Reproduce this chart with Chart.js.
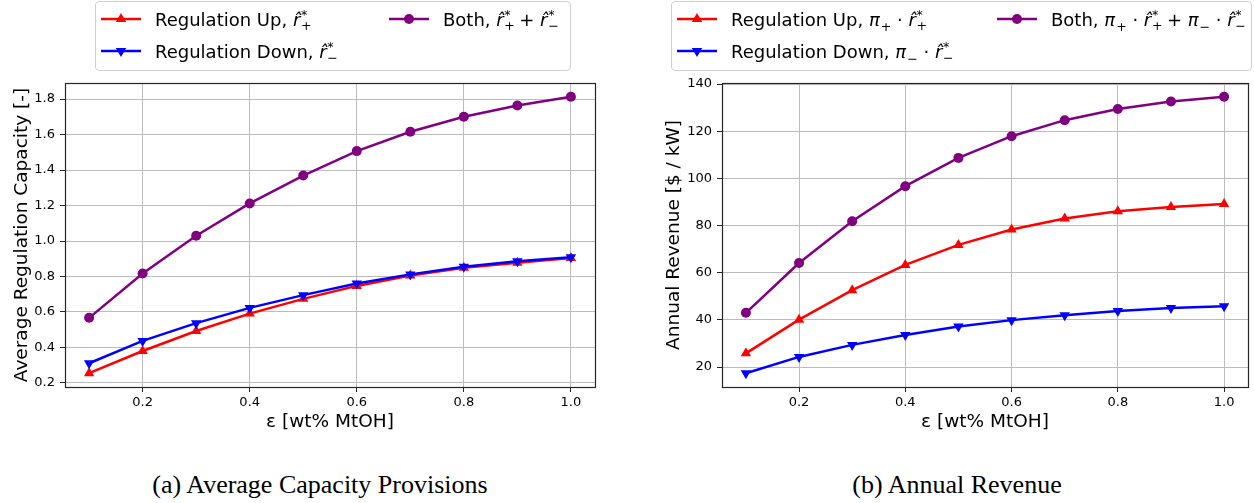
<!DOCTYPE html>
<html>
<head>
<meta charset="utf-8">
<script src="https://cdn.jsdelivr.net/npm/chart.js@4.4.1/dist/chart.umd.min.js"></script>
<style>
  html, body { margin: 0; padding: 0; background: #fff; }
  #page { position: relative; width: 1254px; height: 503px; overflow: hidden; }
  canvas { position: absolute; top: 0; }
  #capChart { left: 0; }
  #revChart { left: 640px; }
  .legend {
    position: absolute; top: 1px; height: 68px;
    border: 1px solid #d0d0d0; border-radius: 4px; background: rgba(255,255,255,0.85);
    font-family: "DejaVu Sans", sans-serif; font-size: 18px; color: #000;
  }
  .item { position: absolute; height: 30px; display: flex; align-items: center; white-space: nowrap; }
  .item svg { flex: none; margin-right: 14px; }
  .m { font-style: italic; }
  /* stacked super/subscript that does not grow the line box */
  .ss { display: inline-block; position: relative; width: 0.55em; height: 1em; }
  .ss .up, .ss .dn { position: absolute; left: 0.05em; font-size: 0.7em; line-height: 1; }
  .ss .up { top: 0.04em; }
  .ss .dn { top: 0.95em; }
  .sub { font-size: 0.7em; position: relative; top: 0.4em; margin-left: 1px; }
  .caption {
    position: absolute; top: 470px; transform: translateX(-50%); white-space: nowrap;
    font-family: "Liberation Serif", "DejaVu Serif", serif; font-size: 26px; color: #000;
  }
</style>
</head>
<body>
<div id="page">
  <canvas id="capChart" width="627" height="440"></canvas>
  <canvas id="revChart" width="614" height="440"></canvas>
  <div class="legend" id="capLegend" style="left:95px; width:474px;"></div>
  <div class="legend" id="revLegend" style="left:671px; width:579px;"></div>
  <div class="caption" style="left:320px;">(a) Average Capacity Provisions</div>
  <div class="caption" style="left:957px;">(b) Annual Revenue</div>
</div>
<script>
// methanol concentration sweep
const epsilon = [0.1, 0.2, 0.3, 0.4, 0.5, 0.6, 0.7, 0.8, 0.9, 1.0]

// average regulation capacity [-]
const capUp = [0.255, 0.380, 0.493, 0.591, 0.674, 0.747, 0.805, 0.849, 0.877, 0.905]
const capDown = [0.311, 0.437, 0.537, 0.623, 0.695, 0.761, 0.812, 0.855, 0.886, 0.908]
const capBoth = [0.567, 0.817, 1.030, 1.212, 1.369, 1.507, 1.616, 1.701, 1.764, 1.813]

// annual revenue [$ / kW]
const revUp = [25.8, 40.1, 52.6, 63.3, 71.8, 78.3, 83.0, 86.1, 87.9, 89.1]
const revDown = [17.4, 24.3, 29.4, 33.6, 37.2, 39.9, 42.0, 43.8, 45.0, 45.8]
const revBoth = [43.0, 64.1, 81.8, 96.7, 108.7, 117.9, 124.7, 129.4, 132.6, 134.6]

const xTicks = [0.2, 0.4, 0.6, 0.8, 1.0]
const capTicks = [0.2, 0.4, 0.6, 0.8, 1.0, 1.2, 1.4, 1.6, 1.8]
const revTicks = [20, 40, 60, 80, 100, 120, 140]

// legend labels (mathtext-ish markup)
const R_UP = '<span class="m">r&#770;</span><span class="ss"><span class="up">*</span><span class="dn">+</span></span>'
const R_DN = '<span class="m">r&#770;</span><span class="ss"><span class="up">*</span><span class="dn">&minus;</span></span>'
const PI_UP = '<span class="m">&pi;</span><span class="sub">+</span>'
const PI_DN = '<span class="m">&pi;</span><span class="sub">&minus;</span>'
const capLabels = ['Regulation Up, ' + R_UP, 'Regulation Down, ' + R_DN, 'Both, ' + R_UP + ' + ' + R_DN]
const revLabels = [
    'Regulation Up, ' + PI_UP + ' &middot; ' + R_UP,
    'Regulation Down, ' + PI_DN + ' &middot; ' + R_DN,
    'Both, ' + PI_UP + ' &middot; ' + R_UP + ' + ' + PI_DN + ' &middot; ' + R_DN
]

const RED = '#ff0000'
const BLUE = '#0000ff'
const PURPLE = '#800080'
const GRID = '#bcbcbc'
const SPINE = '#262626'
const FONT = 'DejaVu Sans'
const LINE_W = 2.5

// matplotlib-like 5% margins around the data
function padRange(values, frac) {
    const lo = Math.min(...values), hi = Math.max(...values)
    const m = (hi - lo) * frac
    return [lo - m, hi + m]
}

function series(label, ys, color, style, radius, rotation, order) {
    return {
        label: label,
        data: epsilon.map((x, i) => ({ x: x, y: ys[i] })),
        borderColor: color,
        backgroundColor: color,
        borderWidth: LINE_W,
        pointStyle: style,
        pointRadius: radius,
        pointHoverRadius: radius,
        pointRotation: rotation,
        pointBorderWidth: 0,
        tension: 0,
        order: order
    }
}

// full box around the plot area, like matplotlib spines
const frame = {
    id: 'frame',
    afterDraw(chart) {
        const { ctx, chartArea: a } = chart
        ctx.save()
        ctx.strokeStyle = SPINE
        ctx.lineWidth = 1.2
        ctx.strokeRect(Math.round(a.left) + 0.5, Math.round(a.top) + 0.5,
            Math.round(a.right - a.left), Math.round(a.bottom - a.top))
        ctx.restore()
    }
}

function makeChart(id, sets, yTicks, yTitle, yFmt, geo) {
    const [xmin, xmax] = padRange(epsilon, 0.05)
    const all = sets.flatMap(s => s.data.map(p => p.y))
    const [ymin, ymax] = padRange(all, 0.05)
    return new Chart(document.getElementById(id).getContext('2d'), {
        type: 'line',
        data: { datasets: sets },
        options: {
            responsive: false,
            animation: false,
            devicePixelRatio: 1,
            layout: { padding: { top: 83, right: geo.right, left: 0, bottom: 0 } },
            plugins: { legend: { display: false }, tooltip: { enabled: false } },
            scales: {
                x: {
                    type: 'linear',
                    min: xmin,
                    max: xmax,
                    afterBuildTicks: s => { s.ticks = xTicks.map(v => ({ value: v })) },
                    afterFit: s => { s.height = 53 },
                    border: { display: false },
                    grid: { color: GRID, lineWidth: 1, tickColor: SPINE, tickLength: 5, tickWidth: 1 },
                    ticks: {
                        autoSkip: false, maxRotation: 0, padding: 3, color: '#000',
                        font: { family: FONT, size: 13 },
                        callback: v => v.toFixed(1)
                    },
                    title: {
                        display: true, text: 'ε [wt% MtOH]', color: '#000',
                        font: { family: FONT, size: 18.5, lineHeight: 1 },
                        padding: { top: 0, bottom: 9 }
                    }
                },
                y: {
                    type: 'linear',
                    min: ymin,
                    max: ymax,
                    afterBuildTicks: s => { s.ticks = yTicks.map(v => ({ value: v })) },
                    afterFit: s => { s.width = geo.yWidth },
                    border: { display: false },
                    grid: { color: GRID, lineWidth: 1, tickColor: SPINE, tickLength: 5, tickWidth: 1 },
                    ticks: {
                        autoSkip: false, padding: 5, color: '#000',
                        font: { family: FONT, size: 13 },
                        callback: yFmt
                    },
                    title: {
                        display: true, text: yTitle, color: '#000',
                        font: { family: FONT, size: 18.5, lineHeight: 1 },
                        padding: { top: geo.titlePad, bottom: 0 }
                    }
                }
            }
        },
        plugins: [frame]
    })
}

function swatch(color, style) {
    let mark
    if (style === 'circle') mark = `<circle cx="20" cy="15" r="5" fill="${color}"/>`
    else if (style === 'up') mark = `<polygon points="20,9 25.2,18 14.8,18" fill="${color}"/>`
    else mark = `<polygon points="20,21 25.2,12 14.8,12" fill="${color}"/>`
    return `<svg width="40" height="30"><line x1="0" y1="15" x2="40" y2="15" stroke="${color}" stroke-width="${LINE_W}"/>${mark}</svg>`
}

function buildLegend(el, labels, spots) {
    const colors = [RED, BLUE, PURPLE]
    const styles = ['up', 'down', 'circle']
    el.innerHTML = labels.map((lab, i) =>
        `<div class="item" style="left:${spots[i][0]}px; top:${spots[i][1]}px;">${swatch(colors[i], styles[i])}<span>${lab}</span></div>`
    ).join('')
}

makeChart('capChart', [
    series('Regulation Up', capUp, RED, 'triangle', 6, 0, 3),
    series('Regulation Down', capDown, BLUE, 'triangle', 6, 180, 2),
    series('Both', capBoth, PURPLE, 'circle', 5, 0, 1)
], capTicks, 'Average Regulation Capacity [-]', v => v.toFixed(1), { right: 32, yWidth: 65, titlePad: 13 })

makeChart('revChart', [
    series('Regulation Up', revUp, RED, 'triangle', 6, 0, 3),
    series('Regulation Down', revDown, BLUE, 'triangle', 6, 180, 2),
    series('Both', revBoth, PURPLE, 'circle', 5, 0, 1)
], revTicks, 'Annual Revenue [$ / kW]', v => String(v), { right: 5, yWidth: 82, titlePad: 25 })

buildLegend(document.getElementById('capLegend'), capLabels, [[5, 2], [5, 34], [293, 2]])
buildLegend(document.getElementById('revLegend'), revLabels, [[5, 2], [5, 34], [325, 2]])
</script>
</body>
</html>
